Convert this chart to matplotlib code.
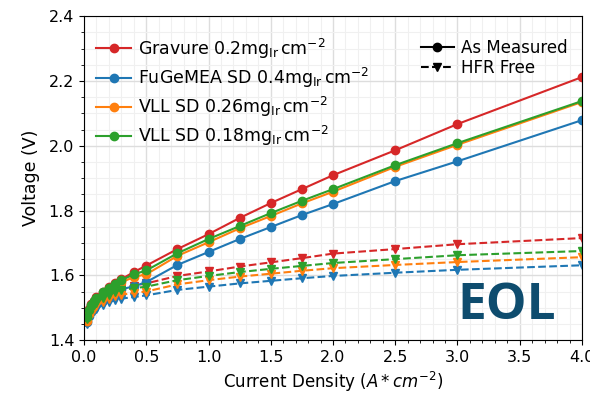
import matplotlib.pyplot as plt
from matplotlib.lines import Line2D

current = [0.02, 0.04, 0.06, 0.08, 0.1, 0.15, 0.2, 0.25, 0.3, 0.4, 0.5,
           0.75, 1.0, 1.25, 1.5, 1.75, 2.0, 2.5, 3.0, 4.0]

labels = [r"Gravure 0.2mg$_{\rm Ir}\,$cm$^{-2}$",
          r"FuGeMEA SD 0.4mg$_{\rm Ir}\,$cm$^{-2}$",
          r"VLL SD 0.26mg$_{\rm Ir}\,$cm$^{-2}$",
          r"VLL SD 0.18mg$_{\rm Ir}\,$cm$^{-2}$"]
colors = ["#d62728", "#1f77b4", "#ff7f0e", "#2ca02c"]

# as measured
gravure_meas = [1.475, 1.495, 1.51, 1.522, 1.532, 1.55, 1.565, 1.577, 1.588, 1.61, 1.63,
                1.681, 1.727, 1.777, 1.823, 1.866, 1.909, 1.986, 2.067, 2.212]
fugemea_meas = [1.455, 1.475, 1.49, 1.50, 1.51, 1.525, 1.538, 1.548, 1.557, 1.566, 1.579,
                1.632, 1.672, 1.712, 1.749, 1.786, 1.82, 1.891, 1.952, 2.079]
vll26_meas = [1.46, 1.482, 1.498, 1.51, 1.52, 1.54, 1.555, 1.567, 1.578, 1.595, 1.603,
              1.66, 1.702, 1.745, 1.783, 1.822, 1.858, 1.935, 2.003, 2.135]
vll18_meas = [1.47, 1.492, 1.508, 1.52, 1.53, 1.548, 1.562, 1.574, 1.585, 1.603, 1.615,
              1.668, 1.712, 1.752, 1.792, 1.83, 1.866, 1.94, 2.008, 2.138]

# HFR free
gravure_hfr = [1.47, 1.488, 1.50, 1.51, 1.518, 1.532, 1.543, 1.552, 1.56, 1.568, 1.575,
               1.598, 1.612, 1.627, 1.64, 1.653, 1.667, 1.681, 1.696, 1.715]
fugemea_hfr = [1.45, 1.468, 1.48, 1.49, 1.497, 1.508, 1.517, 1.523, 1.528, 1.533, 1.538,
               1.555, 1.565, 1.575, 1.583, 1.591, 1.598, 1.608, 1.617, 1.631]
vll26_hfr = [1.458, 1.475, 1.487, 1.497, 1.505, 1.518, 1.528, 1.535, 1.54, 1.546, 1.55,
             1.572, 1.585, 1.596, 1.605, 1.614, 1.622, 1.632, 1.641, 1.656]
vll18_hfr = [1.465, 1.485, 1.497, 1.507, 1.515, 1.53, 1.54, 1.548, 1.555, 1.56, 1.565,
             1.585, 1.598, 1.61, 1.62, 1.629, 1.638, 1.65, 1.662, 1.675]

measured = [gravure_meas, fugemea_meas, vll26_meas, vll18_meas]
hfr_free = [gravure_hfr, fugemea_hfr, vll26_hfr, vll18_hfr]

fig = plt.figure(figsize=(5.9, 3.95), dpi=100)
ax = fig.add_axes([0.1424, 0.139, 0.844, 0.820])

handles = []
for meas, hfr, c, lab in zip(measured, hfr_free, colors, labels):
    h, = ax.plot(current, meas, "-o", color=c, ms=6, lw=1.5, label=lab)
    ax.plot(current, hfr, "--v", color=c, ms=6, lw=1.5)
    handles.append(h)

ax.set_xlim(0, 4)
ax.set_ylim(1.4, 2.4)
ax.minorticks_on()
ax.grid(which="major", color="#dddddd", lw=1.0)
ax.grid(which="minor", color="#f0f0f0", lw=0.8)
ax.set_axisbelow(True)
ax.tick_params(which="both", labelsize=11.5)
ax.set_xlabel(r"Current Density ($A*cm^{-2}$)", fontsize=12, labelpad=4)
ax.set_ylabel("Voltage (V)", fontsize=12.5, labelpad=6)

leg1 = ax.legend(handles=handles, loc="upper left", bbox_to_anchor=(0.0, 0.975),
                 frameon=False, fontsize=12.5, handlelength=2.0, handletextpad=0.4,
                 borderaxespad=0.3, labelspacing=0.3)
ax.add_artist(leg1)
style_handles = [Line2D([], [], color="black", ls="-", marker="o", lw=1.5, ms=6),
                 Line2D([], [], color="black", ls="--", marker="v", lw=1.5, ms=6)]
ax.legend(style_handles, ["As Measured", "HFR Free"], loc="upper right",
          bbox_to_anchor=(0.997, 0.97), frameon=False, fontsize=12,
          handlelength=2.0, handletextpad=0.4, borderaxespad=0.4, labelspacing=0.1)

ax.text(0.948, 0.105, "EOL", transform=ax.transAxes, ha="right", va="center",
        fontsize=37, fontweight="bold", color="#0e4c6e", family="Open Sans")

fig.savefig("out.png", dpi=100)
